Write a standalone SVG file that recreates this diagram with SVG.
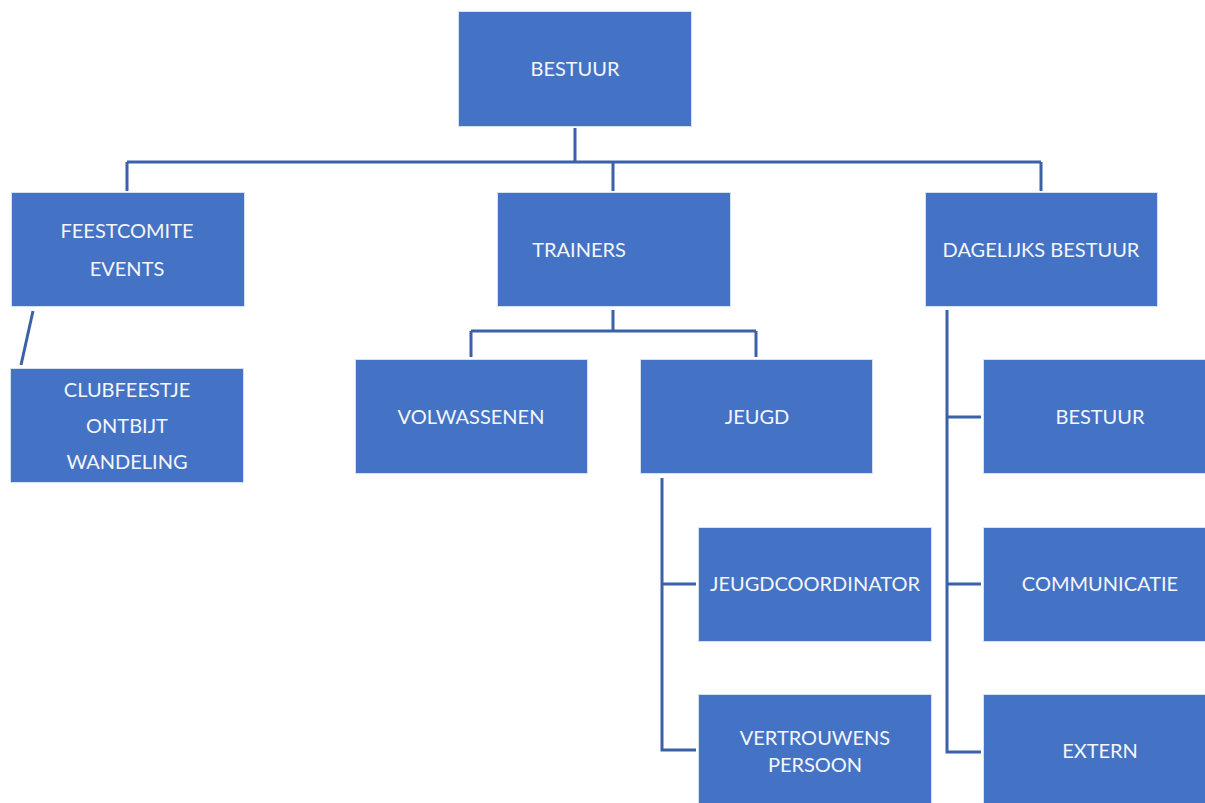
<svg xmlns="http://www.w3.org/2000/svg" width="1205" height="803" viewBox="0 0 1205 803">
<style>
.box{fill:#4472C4;stroke:#D6E0F3;stroke-width:1}
.t{font-family:Lato,"Liberation Sans",Arial,sans-serif;font-size:20px;fill:#F4F6FB;text-anchor:middle}
.c{fill:none;stroke:#3B62A8;stroke-width:3}
</style>
<rect width="1205" height="803" fill="#fff"/>
<g id="connectors">
<path class="c" d="M575 128V162M127 162H1041M127 162V191M613 162V191M1041 162V191"/>
<path class="c" d="M33 311L21 365"/>
<path class="c" d="M613 310V331M471 331H756M471 331V357M756 331V357"/>
<path class="c" d="M662 478V750H696M662 584H696"/>
<path class="c" d="M947 310V752H981M947 417H981M947 584H981"/>
</g>
<g id="n-bestuur"><rect class="box" x="458.5" y="11.5" width="233" height="115"/><text class="t" x="575" y="76">BESTUUR</text></g>
<g id="n-feestcomite"><rect class="box" x="11.5" y="192.5" width="233" height="114"/><text class="t" x="127" y="238">FEESTCOMITE</text><text class="t" x="127" y="276">EVENTS</text></g>
<g id="n-clubfeestje"><rect class="box" x="10.5" y="368.5" width="233" height="114"/><text class="t" x="127" y="397">CLUBFEESTJE</text><text class="t" x="127" y="433">ONTBIJT</text><text class="t" x="127" y="469">WANDELING</text></g>
<g id="n-trainers"><rect class="box" x="497.5" y="192.5" width="233" height="114"/><text class="t" x="579" y="257">TRAINERS</text></g>
<g id="n-dagelijks"><rect class="box" x="925.5" y="192.5" width="232" height="114"/><text class="t" x="1041" y="257">DAGELIJKS BESTUUR</text></g>
<g id="n-volwassenen"><rect class="box" x="355.5" y="359.5" width="232" height="114"/><text class="t" x="471" y="424">VOLWASSENEN</text></g>
<g id="n-jeugd"><rect class="box" x="640.5" y="359.5" width="232" height="114"/><text class="t" x="757" y="424">JEUGD</text></g>
<g id="n-jeugdcoordinator"><rect class="box" x="698.5" y="527.5" width="233" height="114"/><text class="t" x="815" y="591">JEUGDCOORDINATOR</text></g>
<g id="n-vertrouwens"><rect class="box" x="698.5" y="694.5" width="233" height="114"/><text class="t" x="815" y="745">VERTROUWENS</text><text class="t" x="815" y="772">PERSOON</text></g>
<g id="n-bestuur2"><rect class="box" x="983.5" y="359.5" width="232" height="114"/><text class="t" x="1100" y="424">BESTUUR</text></g>
<g id="n-communicatie"><rect class="box" x="983.5" y="527.5" width="232" height="114"/><text class="t" x="1100" y="591">COMMUNICATIE</text></g>
<g id="n-extern"><rect class="box" x="983.5" y="694.5" width="232" height="114"/><text class="t" x="1100" y="758">EXTERN</text></g>
</svg>
